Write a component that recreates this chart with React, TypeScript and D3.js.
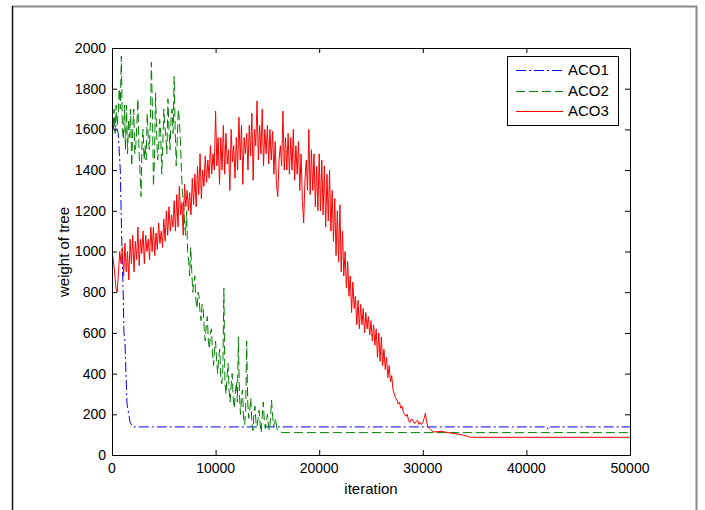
import React from "react";
import * as d3 from "d3";

const xTicks = [0, 10000, 20000, 30000, 40000, 50000];
const yTicks = [0, 200, 400, 600, 800, 1000, 1200, 1400, 1600, 1800, 2000];
const seriesNames = ["ACO1", "ACO2", "ACO3"];

// ACO1: explicit (iteration, weight) pairs
const aco1Points: [number, number][] = [
  [0, 1650], [200, 1600], [400, 1620], [600, 1580], [800, 1400], [900, 1150],
  [1000, 950], [1100, 750], [1150, 600], [1250, 560], [1350, 400], [1450, 250],
  [1550, 220], [1650, 190], [1750, 160], [2000, 138], [42000, 138], [42100, 125],
  [42300, 138], [50000, 138],
];

// ACO2: sampled every 100 iterations, then flat tail
const aco2Step = 100;
const aco2Values = [
  1650, 1600, 1700, 1580, 1720, 1620, 1680, 1800, 1700, 1960,
  1600, 1550, 1720, 1500, 1720, 1480, 1650, 1560, 1700, 1420,
  1600, 1700, 1480, 1520, 1620, 1750, 1500, 1400, 1270, 1550,
  1600, 1450, 1520, 1450, 1680, 1560, 1500, 1620, 1930, 1700,
  1320, 1450, 1780, 1600, 1450, 1500, 1650, 1580, 1380, 1520,
  1700, 1620, 1560, 1480, 1750, 1600, 1500, 1650, 1700, 1580,
  1860, 1600, 1420, 1550, 1700, 1650, 1550, 1400, 1280, 1250,
  1150, 1080, 1200, 1000, 950, 880, 1020, 900, 800, 850,
  880, 760, 720, 800, 780, 700, 660, 740, 720, 620,
  560, 640, 680, 560, 520, 600, 620, 500, 440, 520,
  560, 460, 400, 480, 520, 380, 350, 420, 820, 360,
  300, 380, 450, 320, 260, 340, 400, 280, 230, 300,
  360, 260, 580, 300, 200, 280, 320, 180, 150, 220,
  560, 260, 180, 220, 280, 160, 120, 200, 240, 160,
  140, 180, 220, 150, 110, 190, 260, 170, 130, 160,
  200, 140, 120, 180, 270, 190, 140, 160, 180, 130,
];
const aco2Tail: [number, number][] = [[16100, 115], [16500, 110], [50000, 110]];

// ACO3: sampled every 125 iterations, then tail
const aco3Step = 125;
const aco3Values = [
  1000, 960, 900, 820, 800, 900, 1000, 940,
  1020, 880, 1040, 900, 1000, 860, 1060, 940,
  1080, 900, 1050, 960, 1120, 930, 1060, 990,
  1100, 940, 1080, 1000, 1060, 960, 1120, 1000,
  1120, 980, 1090, 1010, 1140, 1040, 1100, 1020,
  1160, 1050, 1200, 1080, 1220, 1100, 1180, 1120,
  1250, 1100, 1280, 1120, 1320, 1180, 1240, 1080,
  1330, 1220, 1300, 1200, 1290, 1180, 1360, 1230,
  1380, 1220, 1420, 1280, 1480, 1260, 1400, 1320,
  1470, 1340, 1450, 1360, 1520, 1380, 1480, 1400,
  1690, 1420, 1560, 1330, 1560, 1400, 1620, 1380,
  1580, 1430, 1500, 1300, 1600, 1440, 1520, 1360,
  1560, 1400, 1660, 1450, 1620, 1330, 1560, 1480,
  1580, 1400, 1620, 1470, 1680, 1350, 1600, 1520,
  1740, 1450, 1620, 1480, 1700, 1420, 1600, 1480,
  1620, 1430, 1600, 1450, 1590, 1380, 1540, 1330,
  1270, 1450, 1520, 1420, 1690, 1400, 1560, 1400,
  1580, 1380, 1560, 1400, 1600, 1350, 1520, 1380,
  1540, 1300, 1480, 1250, 1140, 1350, 1450, 1300,
  1600, 1280, 1500, 1300, 1480, 1220, 1420, 1200,
  1480, 1200, 1450, 1180, 1420, 1120, 1380, 1150,
  1400, 1100, 1300, 1050, 1260, 980, 1200, 950,
  1230, 900, 1100, 880, 1000, 820, 950, 780,
  880, 700, 850, 720, 780, 640, 760, 620,
  740, 640, 720, 600, 700, 620, 680, 590,
  660, 560, 640, 540, 620, 480, 600, 460,
  580, 440, 520, 420, 480, 380, 440, 360,
  390, 320, 300, 280, 270, 250, 260, 230,
  240, 210, 200, 190, 200, 170, 160, 175,
  175, 160, 155, 165, 170, 150, 160, 150,
  160, 180, 205, 160, 140, 130, 125,
];
const aco3Tail: [number, number][] = [
  [31000, 113], [31800, 116], [32700, 108], [33900, 98], [34600, 87], [50000, 87],
];

const colors = ["#0000ff", "#008000", "#ff0000"];
const dashes = ["10,3,2,3", "9,4", "none"];

const W = 705;
const H = 510;
const FONT = "'Liberation Sans', Arial, Helvetica, sans-serif";

export default function App() {
  const x = d3.scaleLinear().domain([0, 50000]).range([112, 630]);
  const y = d3.scaleLinear().domain([0, 2000]).range([455, 48]);
  const line = d3
    .line<[number, number]>()
    .x((d) => x(d[0]))
    .y((d) => y(d[1]));

  const aco2: [number, number][] = aco2Values
    .map((v, i) => [i * aco2Step, v] as [number, number])
    .concat(aco2Tail);
  const aco3: [number, number][] = aco3Values
    .map((v, i) => [i * aco3Step, v] as [number, number])
    .concat(aco3Tail);
  const series = [aco1Points, aco2, aco3];

  const [x0, x1] = x.range();
  const [yb, yt] = y.range();
  const tl = 5;

  const legX = 507, legY = 56, legW = 111, legH = 69;
  const rowY = [70, 91, 111];

  return (
    <svg
      width={W}
      height={H}
      style={{ position: "absolute", left: 0, top: 0, background: "#fff" }}
      fontFamily={FONT}
    >
      {/* outer frame */}
      <line x1={12} y1={6.5} x2={697} y2={6.5} stroke="#888" strokeWidth={2} />
      <line x1={12.5} y1={6} x2={12.5} y2={H} stroke="#111" strokeWidth={1.5} />
      <line x1={696.5} y1={6} x2={696.5} y2={H} stroke="#888" strokeWidth={2} />

      <defs>
        <clipPath id="clip">
          <rect x={x0} y={yt} width={x1 - x0} height={yb - yt} />
        </clipPath>
      </defs>

      {/* series */}
      <g clipPath="url(#clip)">
        {series.map((s, i) => (
          <path
            key={i}
            d={line(s) || ""}
            fill="none"
            stroke={colors[i]}
            strokeWidth={1}
            strokeDasharray={dashes[i]}
          />
        ))}
      </g>

      {/* axes box */}
      <rect x={x0 + 0.5} y={yt + 0.5} width={x1 - x0} height={yb - yt} fill="none" stroke="#000" strokeWidth={1} />

      {/* x ticks */}
      {xTicks.map((t) => (
        <g key={"x" + t}>
          <line x1={x(t) + 0.5} x2={x(t) + 0.5} y1={yb} y2={yb - tl} stroke="#000" />
          <line x1={x(t) + 0.5} x2={x(t) + 0.5} y1={yt} y2={yt + tl} stroke="#000" />
          <text x={x(t)} y={473} textAnchor="middle" fontSize={14} fill="#000">
            {t}
          </text>
        </g>
      ))}
      {/* y ticks */}
      {yTicks.map((t) => (
        <g key={"y" + t}>
          <line x1={x0} x2={x0 + tl} y1={y(t) + 0.5} y2={y(t) + 0.5} stroke="#000" />
          <line x1={x1} x2={x1 - tl} y1={y(t) + 0.5} y2={y(t) + 0.5} stroke="#000" />
          <text x={106} y={y(t)} dy="0.35em" textAnchor="end" fontSize={14} fill="#000">
            {t}
          </text>
        </g>
      ))}

      {/* axis labels */}
      <text x={371} y={494} textAnchor="middle" fontSize={15} fill="#000">
        iteration
      </text>
      <text
        transform="translate(69,252) rotate(-90)"
        textAnchor="middle"
        fontSize={15}
        fill="#000"
      >
        weight of tree
      </text>

      {/* legend */}
      <rect x={legX + 0.5} y={legY + 0.5} width={legW} height={legH} fill="#fff" stroke="#000" />
      {seriesNames.map((n, i) => (
        <g key={n}>
          <line
            x1={516}
            x2={563}
            y1={rowY[i] + 0.5}
            y2={rowY[i] + 0.5}
            stroke={colors[i]}
            strokeDasharray={dashes[i]}
          />
          <text x={568} y={rowY[i]} dy="0.35em" fontSize={15} fill="#000">
            {n}
          </text>
        </g>
      ))}
    </svg>
  );
}
